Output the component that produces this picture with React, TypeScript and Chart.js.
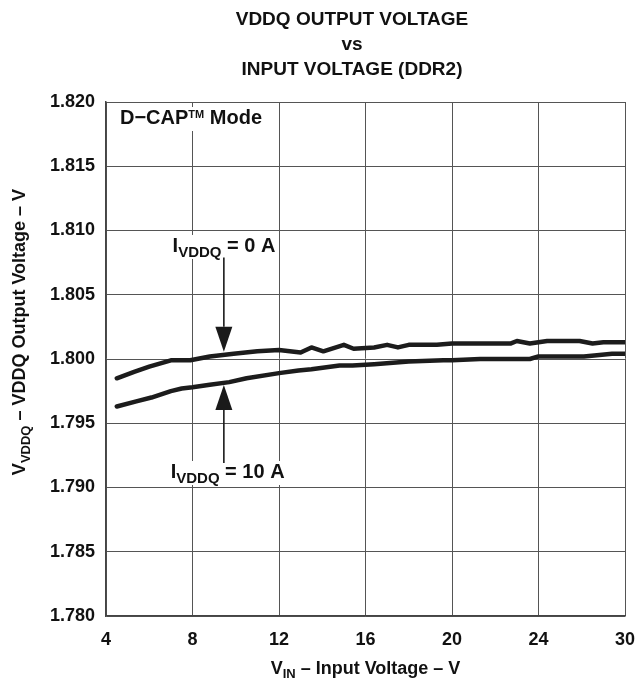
import React, { useEffect, useRef } from 'react';
import { Chart, registerables } from 'chart.js';

Chart.register(...registerables);

const FONT = '"Liberation Sans", Arial, Helvetica, sans-serif';

const titleLines = ['VDDQ OUTPUT VOLTAGE', 'vs', 'INPUT VOLTAGE (DDR2)'];

// x axis: grid positions are equally spaced; the last grid line is labelled 30
const xTickValues = [4, 8, 12, 16, 20, 24, 28];
const xTickLabels = ['4', '8', '12', '16', '20', '24', '30'];
const yMin = 1.78;
const yMax = 1.82;
const yStep = 0.005;

// I_VDDQ = 0 A (x in axis-grid units)
const vinPos0A = [4.5, 5.3, 6.0, 7.0, 7.9, 8.8, 9.9, 11.0, 12.0, 12.5, 13.0, 13.5, 14.05, 15.0, 15.45, 16.4, 17.0, 17.5, 18.0, 19.3, 20.0, 22.7, 23.0, 23.6, 24.4, 25.9, 26.5, 27.0, 28.0];
const vout0A = [1.7985, 1.799, 1.7994, 1.7999, 1.7999, 1.8002, 1.8004, 1.8006, 1.8007, 1.8006, 1.8005, 1.8009, 1.8006, 1.8011, 1.8008, 1.8009, 1.8011, 1.8009, 1.8011, 1.8011, 1.8012, 1.8012, 1.8014, 1.8012, 1.8014, 1.8014, 1.8012, 1.8013, 1.8013];

// I_VDDQ = 10 A
const vinPos10A = [4.5, 5.4, 6.1, 7.0, 7.5, 8.0, 8.8, 9.7, 10.5, 12.0, 12.9, 13.5, 14.8, 15.4, 16.4, 18.0, 19.6, 20.0, 21.3, 23.6, 24.0, 26.1, 26.7, 27.4, 28.0];
const vout10A = [1.7963, 1.7967, 1.797, 1.7975, 1.7977, 1.7978, 1.798, 1.7982, 1.7985, 1.7989, 1.7991, 1.7992, 1.7995, 1.7995, 1.7996, 1.7998, 1.7999, 1.7999, 1.8, 1.8, 1.8002, 1.8002, 1.8003, 1.8004, 1.8004];

// annotation anchors (data coords)
const arrowX = 9.45;
const arrow0A = { tail: 1.8079, tip: 1.80057 };
const arrow10A = { tail: 1.79191, tip: 1.79798 };
const label0A = { x: 7.08, y: 1.80833, text: ' = 0 A' };
const label10A = { x: 6.99, y: 1.79074, text: ' = 10 A' };

type Run = { t: string; size: number; dy: number };

function setFont(ctx: CanvasRenderingContext2D, size: number) {
  ctx.font = `bold ${size}px ${FONT}`;
}
function runsWidth(ctx: CanvasRenderingContext2D, runs: Run[]) {
  let w = 0;
  for (const r of runs) {
    setFont(ctx, r.size);
    w += ctx.measureText(r.t).width;
  }
  return w;
}
function drawRuns(ctx: CanvasRenderingContext2D, x: number, y: number, runs: Run[]) {
  let cx = x;
  ctx.textAlign = 'left';
  ctx.textBaseline = 'alphabetic';
  for (const r of runs) {
    setFont(ctx, r.size);
    ctx.fillText(r.t, cx, y + r.dy);
    cx += ctx.measureText(r.t).width;
  }
}
function drawArrow(ctx: CanvasRenderingContext2D, x: number, yTail: number, yTip: number) {
  const dir = yTip > yTail ? 1 : -1;
  const headLen = 25;
  const headHalf = 8.5;
  const yBase = yTip - dir * headLen;
  ctx.strokeStyle = '#1a1a1a';
  ctx.lineWidth = 1.6;
  ctx.beginPath();
  ctx.moveTo(x, yTail);
  ctx.lineTo(x, yBase);
  ctx.stroke();
  ctx.fillStyle = '#1a1a1a';
  ctx.beginPath();
  ctx.moveTo(x, yTip);
  ctx.lineTo(x - headHalf, yBase);
  ctx.lineTo(x + headHalf, yBase);
  ctx.closePath();
  ctx.fill();
}
function labelWithBg(ctx: CanvasRenderingContext2D, x: number, y: number, runs: Run[]) {
  const w = runsWidth(ctx, runs);
  ctx.fillStyle = '#ffffff';
  ctx.fillRect(x - 2, y - 17, w + 4, 24);
  ctx.fillStyle = '#111111';
  drawRuns(ctx, x, y, runs);
}

const annotationPlugin = {
  id: 'annotations',
  afterDraw(chart: any) {
    const { ctx, chartArea } = chart;
    const xs = chart.scales.x;
    const ys = chart.scales.y;
    ctx.save();

    // title
    ctx.fillStyle = '#111111';
    setFont(ctx, 19);
    ctx.textAlign = 'center';
    ctx.textBaseline = 'middle';
    const tcx = chartArea.left + (chartArea.right - chartArea.left) * 0.474;
    titleLines.forEach((l, i) => ctx.fillText(l, tcx, 20 + i * 25));

    // D-CAP mode box
    const dcap: Run[] = [
      { t: 'D\u2212CAP', size: 20, dy: 0 },
      { t: 'TM', size: 11, dy: -6 },
      { t: ' Mode', size: 20, dy: 0 },
    ];
    labelWithBg(ctx, chartArea.left + 14, chartArea.top + 22, dcap);

    // labels
    const sub = (t: string): Run[] => [
      { t: 'I', size: 20, dy: 0 },
      { t: 'VDDQ', size: 15, dy: 5 },
      { t, size: 20, dy: 0 },
    ];
    labelWithBg(ctx, xs.getPixelForValue(label0A.x), ys.getPixelForValue(label0A.y), sub(label0A.text));
    labelWithBg(ctx, xs.getPixelForValue(label10A.x), ys.getPixelForValue(label10A.y), sub(label10A.text));

    // arrows
    const ax = xs.getPixelForValue(arrowX);
    drawArrow(ctx, ax, ys.getPixelForValue(arrow0A.tail), ys.getPixelForValue(arrow0A.tip));
    drawArrow(ctx, ax, ys.getPixelForValue(arrow10A.tail), ys.getPixelForValue(arrow10A.tip));

    // x axis title
    ctx.fillStyle = '#111111';
    const xRuns: Run[] = [
      { t: 'V', size: 18, dy: 0 },
      { t: 'IN', size: 13, dy: 4 },
      { t: ' \u2013 Input Voltage \u2013 V', size: 18, dy: 0 },
    ];
    const xw = runsWidth(ctx, xRuns);
    const xcx = (chartArea.left + chartArea.right) / 2;
    drawRuns(ctx, xcx - xw / 2, chartArea.bottom + 58, xRuns);

    // y axis title
    const yRuns: Run[] = [
      { t: 'V', size: 18, dy: 0 },
      { t: 'VDDQ', size: 13, dy: 5 },
      { t: ' \u2013 VDDQ Output Voltage \u2013 V', size: 18, dy: 0 },
    ];
    const yw = runsWidth(ctx, yRuns);
    ctx.translate(24.5, 332);
    ctx.rotate(-Math.PI / 2);
    drawRuns(ctx, -yw / 2, 0, yRuns);

    ctx.restore();
  },
};

export default function App() {
  const ref = useRef<HTMLCanvasElement | null>(null);
  useEffect(() => {
    if (!ref.current) return;
    const lineColor = '#1c1c1c';
    const chart = new Chart(ref.current, {
      type: 'line',
      data: {
        datasets: [
          {
            label: 'IVDDQ = 0 A',
            data: vinPos0A.map((x, i) => ({ x, y: vout0A[i] })),
            borderColor: lineColor,
            borderWidth: 4.5,
            pointRadius: 0,
            tension: 0,
            borderCapStyle: 'round',
            borderJoinStyle: 'round',
          },
          {
            label: 'IVDDQ = 10 A',
            data: vinPos10A.map((x, i) => ({ x, y: vout10A[i] })),
            borderColor: lineColor,
            borderWidth: 4.5,
            pointRadius: 0,
            tension: 0,
            borderCapStyle: 'round',
            borderJoinStyle: 'round',
          },
        ],
      },
      options: {
        animation: false,
        responsive: true,
        maintainAspectRatio: false,
        layout: { padding: { left: 0, top: 102, right: 14, bottom: 0 } },
        plugins: {
          legend: { display: false },
          title: { display: false },
          tooltip: { enabled: false },
        },
        scales: {
          x: {
            type: 'linear',
            min: 4,
            max: 28,
            afterBuildTicks: (scale: any) => {
              scale.ticks = xTickValues.map((v) => ({ value: v }));
            },
            afterFit: (scale: any) => {
              scale.height = 65;
              scale.paddingLeft = 0;
              scale.paddingRight = 0;
            },
            ticks: {
              autoSkip: false,
              maxRotation: 0,
              padding: 13,
              color: '#111111',
              font: { family: FONT, size: 18, weight: 'bold' },
              callback: (v: any) => {
                const i = xTickValues.indexOf(Number(v));
                return i >= 0 ? xTickLabels[i] : '';
              },
            },
            grid: { color: '#555555', lineWidth: 1, drawTicks: false },
            border: { display: true, color: '#444444', width: 1.5 },
          },
          y: {
            type: 'linear',
            min: yMin,
            max: yMax,
            afterFit: (scale: any) => {
              scale.width = 106;
            },
            ticks: {
              stepSize: yStep,
              padding: 11,
              color: '#111111',
              font: { family: FONT, size: 18, weight: 'bold' },
              callback: (v: any) => Number(v).toFixed(3),
            },
            grid: { color: '#555555', lineWidth: 1, drawTicks: false },
            border: { display: true, color: '#444444', width: 1.5 },
          },
        },
      },
      plugins: [annotationPlugin],
    });
    return () => chart.destroy();
  }, []);

  return (
    <div style={{ position: 'fixed', left: 0, top: 0, width: 639, height: 681, background: '#fff' }}>
      <canvas ref={ref} />
    </div>
  );
}
